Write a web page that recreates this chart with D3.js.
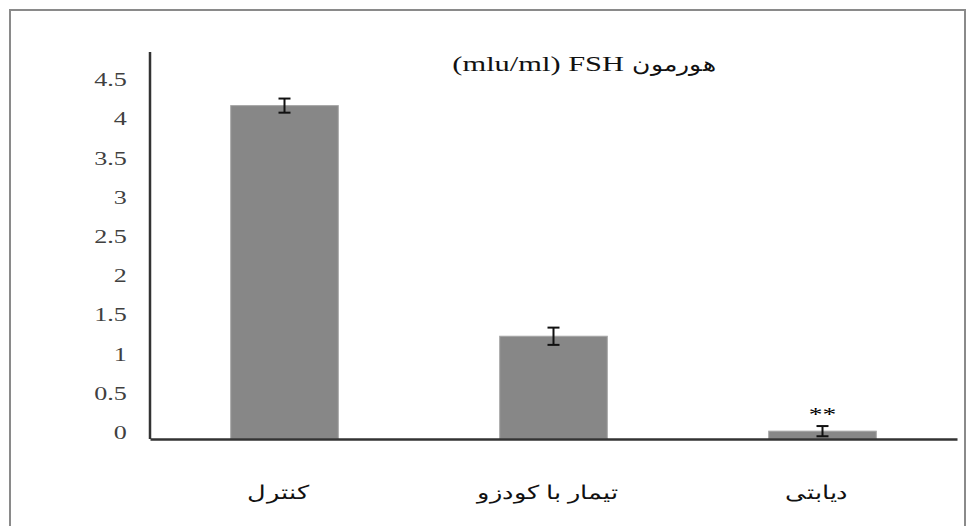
<!DOCTYPE html>
<html>
<head>
<meta charset="utf-8">
<script src="https://cdn.jsdelivr.net/npm/d3@7"></script>
<style>
  body { margin: 0; background: #fff; }
  svg { display: block; }
</style>
</head>
<body>
<div class="chart"></div>
<script>
"use strict";

const categories = ["کنترل", "تیمار با کودزو", "دیابتی"];
const means = [4.25, 1.31, 0.1];
const errors = [0.09, 0.11, 0.065];
const stars = ["", "", "**"];
const yTicks = [0, 0.5, 1, 1.5, 2, 2.5, 3, 3.5, 4, 4.5];
const titleLatin = "(mlu/ml) FSH";
const titleArabic = "هورمون";

const width = 967;
const height = 526;
const stretch = 1.45; // the picture is stretched sideways
const serif = "'Liberation Serif', 'Times New Roman', 'DejaVu Serif', serif";

const margin = { top: 52, right: 10, bottom: 87, left: 150 };

const svg = d3.select(".chart")
  .append("svg")
  .attr("width", width)
  .attr("height", height);

// outer frame
svg.append("rect")
  .attr("x", 10)
  .attr("y", 10)
  .attr("width", 955)
  .attr("height", 540)
  .attr("fill", "none")
  .attr("stroke", "#8a8a8a")
  .attr("stroke-width", 2);

const data = categories.map((c, i) => ({
  name: c,
  value: means[i],
  err: errors[i],
  star: stars[i]
}));

const x = d3.scaleBand()
  .domain(categories)
  .range([margin.left, 957])
  .paddingInner(0.6)
  .paddingOuter(0.3);

const y = d3.scaleLinear()
  .domain([0, 4.5])
  .range([439, 86]);

// bars
svg.selectAll(".bar")
  .data(data)
  .join("rect")
  .attr("class", "bar")
  .attr("x", d => x(d.name))
  .attr("y", d => y(d.value))
  .attr("width", x.bandwidth())
  .attr("height", d => y(0) - y(d.value))
  .attr("fill", "#878787")
  .attr("stroke", "#a6a6a6")
  .attr("stroke-width", 1);

// error bars
const eb = svg.selectAll(".err")
  .data(data)
  .join("g")
  .attr("class", "err")
  .attr("transform", d => `translate(${x(d.name) + x.bandwidth() / 2},0)`)
  .attr("stroke", "#111")
  .attr("stroke-width", 2);

eb.append("line")
  .attr("y1", d => y(d.value + d.err))
  .attr("y2", d => y(d.value - d.err));
eb.append("line")
  .attr("x1", -6).attr("x2", 6)
  .attr("y1", d => y(d.value + d.err))
  .attr("y2", d => y(d.value + d.err));
eb.append("line")
  .attr("x1", -6).attr("x2", 6)
  .attr("y1", d => y(d.value - d.err))
  .attr("y2", d => y(d.value - d.err));

// significance stars
svg.selectAll(".star")
  .data(data.filter(d => d.star))
  .join("text")
  .attr("class", "star")
  .attr("transform", d => `translate(${x(d.name) + x.bandwidth() / 2},${y(d.value + d.err) - 15}) scale(${stretch},1)`)
  .attr("text-anchor", "middle")
  .attr("font-family", serif)
  .attr("font-size", 19)
  .attr("dy", "0.5em")
  .text(d => d.star);

// y axis
const yAxis = svg.append("g")
  .attr("transform", `translate(${margin.left},0)`)
  .call(d3.axisLeft(y).tickValues(yTicks).tickSize(0).tickPadding(0).tickFormat(d3.format("")))
  .attr("font-family", serif)
  .attr("font-size", 18);

yAxis.select(".domain").remove();
yAxis.selectAll("text")
  .attr("x", -16)
  .attr("dy", "-0.02em")
  .attr("transform", `scale(${stretch},1)`)
  .attr("fill", "#404040");

svg.append("line")
  .attr("x1", margin.left).attr("x2", margin.left)
  .attr("y1", 52).attr("y2", y(0))
  .attr("stroke", "#333")
  .attr("stroke-width", 2.5);

// x axis
const xAxis = svg.append("g")
  .attr("transform", `translate(0,${y(0)})`)
  .call(d3.axisBottom(x).tickSize(0).tickPadding(0))
  .attr("font-family", serif)
  .attr("font-size", 19);

xAxis.select(".domain")
  .attr("stroke", "#333")
  .attr("stroke-width", 2.5);

xAxis.selectAll(".tick text")
  .attr("y", 0)
  .attr("dy", 0)
  .attr("transform", `translate(-6,60) scale(1.35,1)`)
  .attr("fill", "#111");

// title, in two pieces so the latin part keeps its serif face
svg.append("text")
  .attr("transform", `translate(624,71) scale(${stretch},1)`)
  .attr("text-anchor", "end")
  .attr("fill", "#111")
  .attr("font-family", serif)
  .attr("font-size", 21)
  .text(titleLatin);

svg.append("text")
  .attr("transform", `translate(632,71) scale(1.25,1)`)
  .attr("text-anchor", "start")
  .attr("fill", "#111")
  .attr("font-family", serif)
  .attr("font-size", 20)
  .text(titleArabic);
</script>
</body>
</html>
